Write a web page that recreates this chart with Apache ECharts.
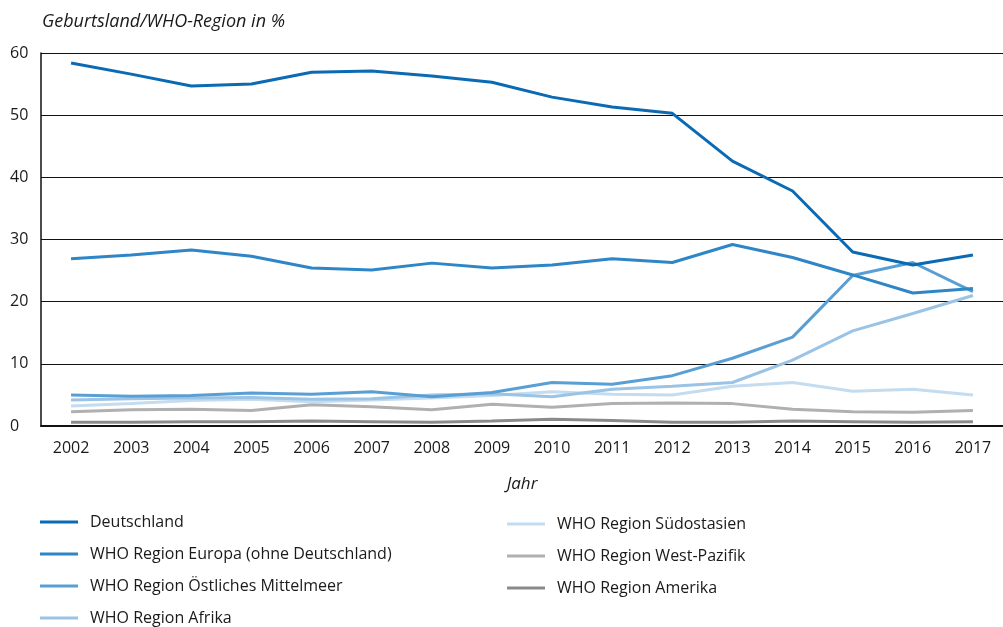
<!DOCTYPE html>
<html>
<head>
<meta charset="utf-8">
<script src="https://cdn.jsdelivr.net/npm/echarts@6/dist/echarts.min.js"></script>
<style>
  html, body { margin: 0; padding: 0; background: #fff; }
  #chart { width: 1003px; height: 627px; }
</style>
</head>
<body>
<div id="chart"></div>
<script>
// Jahre
var years = ['2002', '2003', '2004', '2005', '2006', '2007', '2008', '2009',
  '2010', '2011', '2012', '2013', '2014', '2015', '2016', '2017']

// Anteile in %
var deutschland = [58.4, 56.6, 54.7, 55.0, 56.9, 57.1, 56.3, 55.3, 52.9, 51.3, 50.3, 42.6, 37.8, 28.0, 25.9, 27.5]
var europa = [26.9, 27.5, 28.3, 27.3, 25.4, 25.1, 26.2, 25.4, 25.9, 26.9, 26.3, 29.2, 27.1, 24.3, 21.4, 22.1]
var mittelmeer = [5.0, 4.8, 4.9, 5.3, 5.1, 5.5, 4.7, 5.4, 7.0, 6.7, 8.1, 10.9, 14.3, 24.2, 26.3, 21.6]
var afrika = [4.2, 4.4, 4.5, 4.6, 4.3, 4.4, 5.0, 5.2, 4.7, 5.9, 6.4, 7.0, 10.6, 15.3, 18.1, 21.0]
var suedostasien = [3.2, 3.6, 4.1, 4.3, 3.9, 4.2, 4.5, 4.9, 5.5, 5.1, 5.0, 6.4, 7.0, 5.6, 5.9, 5.0]
var westpazifik = [2.3, 2.6, 2.7, 2.5, 3.4, 3.1, 2.6, 3.5, 3.0, 3.6, 3.7, 3.6, 2.7, 2.3, 2.2, 2.5]
var amerika = [0.6, 0.6, 0.7, 0.7, 0.8, 0.7, 0.6, 0.8, 1.1, 0.9, 0.6, 0.6, 0.8, 0.7, 0.6, 0.7]

var names = [
  'Deutschland',
  'WHO Region Europa (ohne Deutschland)',
  'WHO Region Östliches Mittelmeer',
  'WHO Region Afrika',
  'WHO Region Südostasien',
  'WHO Region West-Pazifik',
  'WHO Region Amerika'
]
var values = [deutschland, europa, mittelmeer, afrika, suedostasien, westpazifik, amerika]
var colors = ['#0b6ab4', '#2f86c6', '#5a9fd4', '#9ac3e5', '#c3dcf0', '#b0b0b0', '#8a8a8a']

var font = 'Open Sans'
var textColor = '#1a1a1a'

var chart = echarts.init(document.getElementById('chart'))

function legend(left, top, data) {
  return {
    left: left,
    top: top,
    orient: 'vertical',
    icon: 'rect',
    itemWidth: 38,
    itemHeight: 3,
    itemGap: 10,
    data: data,
    textStyle: {
      fontFamily: font,
      fontSize: 16,
      color: textColor,
      lineHeight: 22,
      padding: [0, 0, 0, 7]
    }
  }
}

var series = names.map(function(name, i) {
  return {
    name: name,
    type: 'line',
    data: values[i],
    showSymbol: false,
    symbol: 'none',
    z: 10 - i,
    lineStyle: { width: 3, color: colors[i] },
    itemStyle: { color: colors[i] }
  }
})

chart.setOption({
  animation: false,
  title: {
    text: 'Geburtsland/WHO-Region in %',
    left: 37,
    top: 8,
    textStyle: {
      fontFamily: font,
      fontSize: 18,
      fontStyle: 'italic',
      fontWeight: 'normal',
      color: textColor
    }
  },
  grid: { left: 41, top: 53, width: 968, height: 373 },
  legend: [
    legend(35, 506, names.slice(0, 3)),
    legend(35, 602, names.slice(3, 4)),
    legend(502, 508, names.slice(4))
  ],
  xAxis: {
    type: 'category',
    data: years,
    name: 'Jahr',
    nameLocation: 'middle',
    nameGap: 50,
    nameTextStyle: { fontFamily: font, fontSize: 17, fontStyle: 'italic', color: textColor },
    axisLine: { lineStyle: { color: '#111', width: 2 } },
    axisTick: { length: 8, lineStyle: { color: '#111', width: 1.5 } },
    axisLabel: { margin: 14, fontFamily: font, fontSize: 16, color: textColor }
  },
  yAxis: {
    type: 'value',
    min: 0,
    max: 60,
    interval: 10,
    axisLine: { show: true, lineStyle: { color: '#111', width: 1.5 } },
    axisTick: { show: false },
    splitLine: { lineStyle: { color: '#111', width: 1 } },
    axisLabel: {
      margin: 31,
      align: 'left',
      verticalAlign: 'middle',
      padding: [0, 0, 14, 0],
      fontFamily: font,
      fontSize: 16,
      color: textColor
    }
  },
  series: series
})
</script>
</body>
</html>
